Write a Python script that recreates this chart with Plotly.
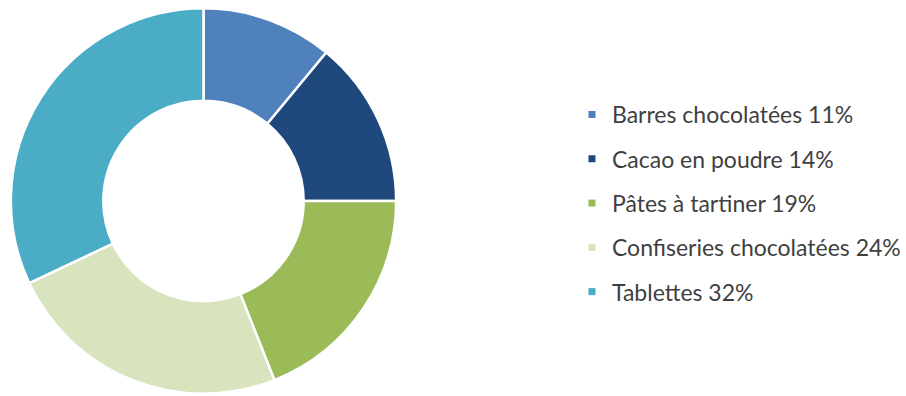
import plotly.graph_objects as go

categories = ["Barres chocolatées", "Cacao en poudre", "Pâtes à tartiner",
              "Confiseries chocolatées", "Tablettes"]
shares = [11, 14, 19, 24, 32]
colors = ["#4F81BD", "#1F497D", "#9BBB59", "#D7E4BD", "#4BACC6"]

legend_names = [f"{c} {v}%" for c, v in zip(categories, shares)]

W, H = 906, 396
cx, cy, r = 206, 201, 195

fig = go.Figure()
fig.add_trace(go.Pie(
    labels=categories,
    values=shares,
    sort=False,
    direction="clockwise",
    rotation=0,
    hole=0.52,
    textinfo="none",
    hoverinfo="label+percent",
    marker=dict(colors=colors, line=dict(color="white", width=2.5)),
    showlegend=False,
    domain=dict(x=[(cx - r) / W, (cx + r) / W],
                y=[(H - cy - r) / H, (H - cy + r) / H]),
))

# legend entries, one group each so the row spacing can be set
for i, (name, col) in enumerate(zip(legend_names, colors)):
    fig.add_trace(go.Scatter(
        x=[None], y=[None], mode="markers", name=name,
        legendgroup=f"g{i}",
        marker=dict(symbol="square", size=7, color=col),
    ))

fig.update_layout(
    width=W, height=H,
    margin=dict(l=0, r=0, t=0, b=0),
    paper_bgcolor="white", plot_bgcolor="white",
    xaxis=dict(visible=False), yaxis=dict(visible=False),
    legend=dict(
        x=579 / W, y=1 - 93 / H, xanchor="left", yanchor="top",
        font=dict(family="Lato", size=23, color="#3F3F3F"),
        tracegroupgap=11.4, bgcolor="rgba(0,0,0,0)",
    ),
)

fig.write_html("out.html")
